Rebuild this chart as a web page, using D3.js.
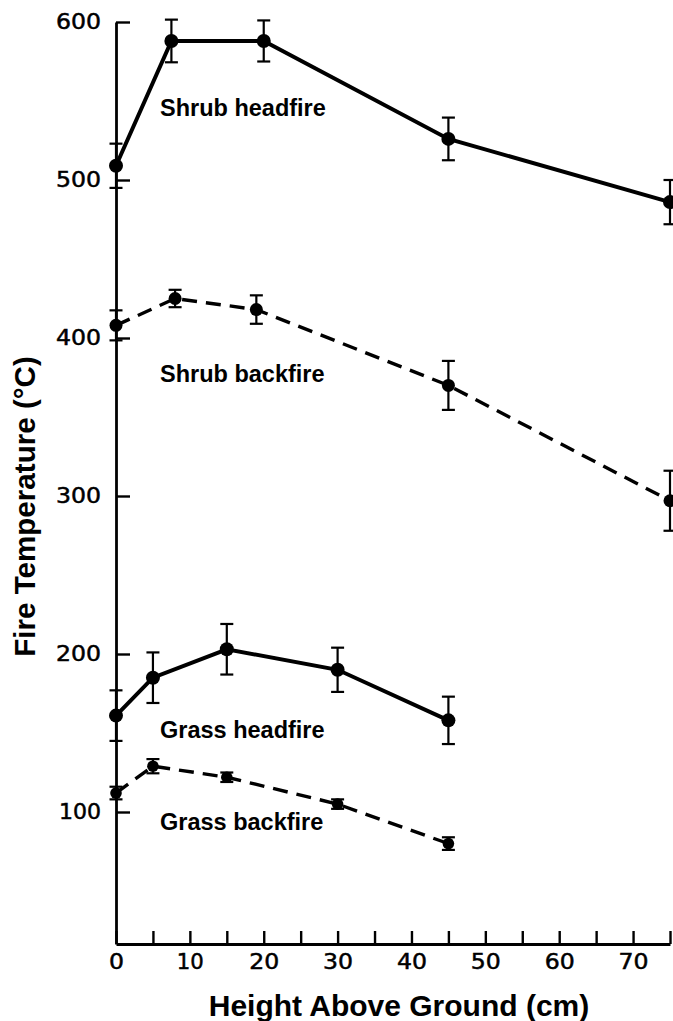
<!DOCTYPE html>
<html>
<head>
<meta charset="utf-8">
<script src="https://cdn.jsdelivr.net/npm/d3@7/dist/d3.min.js"></script>
<style>
  html, body { margin: 0; padding: 0; background: #fff; }
  svg { display: block; }
</style>
</head>
<body>
<script>
// ---- data ----
const seriesNames = ["Shrub headfire", "Shrub backfire", "Grass headfire", "Grass backfire"];
const shrubHeadX = [0, 7.5, 20, 45, 75];
const shrubHeadY = [509, 588, 588, 526, 486];
const shrubHeadErr = [14, 13.5, 13, 13.5, 14];
const shrubBackX = [0, 8, 19, 45, 75];
const shrubBackY = [408, 425, 418, 370, 297];
const shrubBackErr = [9.5, 5.5, 9, 15.5, 19];
const grassHeadX = [0, 5, 15, 30, 45];
const grassHeadY = [161, 185, 203, 190, 158];
const grassHeadErr = [16, 16, 16, 14, 15];
const grassBackX = [0, 5, 15, 30, 45];
const grassBackY = [112, 129, 122, 105, 80];
const grassBackErr = [4, 4.5, 3, 3, 4];
const xTickValues = [0, 5, 10, 15, 20, 25, 30, 35, 40, 45, 50, 55, 60, 65, 70, 75];
const xTickLabels = ["0", "", "10", "", "20", "", "30", "", "40", "", "50", "", "60", "", "70", ""];
const yTickValues = [100, 200, 300, 400, 500, 600];
const xTitle = "Height Above Ground (cm)";
const yTitle = "Fire Temperature (°C)";

const W = 673, H = 1021;
const svg = d3.select("body").append("svg").attr("width", W).attr("height", H);

const x = d3.scaleLinear().domain([0, 75]).range([116, 670]);
const y = d3.scaleLinear().domain([100, 600]).range([812, 22]);
const yMin = y.invert(944);
y.domain([yMin, 600]).range([944, y(600)]);

// axes
const xAxis = d3.axisBottom(x)
  .tickValues(xTickValues)
  .tickFormat((d, i) => xTickLabels[i])
  .tickSizeInner(-13).tickSizeOuter(0).tickPadding(10);
const gx = svg.append("g").attr("transform", "translate(0,944)").call(xAxis);

const yAxis = d3.axisLeft(y)
  .tickValues(yTickValues)
  .tickFormat(d3.format("d"))
  .tickSizeInner(-14).tickSizeOuter(0).tickPadding(15);
const gy = svg.append("g").attr("transform", "translate(116,0)").call(yAxis);

[gx, gy].forEach(g => {
  g.select(".domain").attr("stroke", "#000").attr("stroke-width", 2.8);
  g.selectAll(".tick line").attr("stroke", "#000").attr("stroke-width", 2.4);
  g.selectAll(".tick text")
    .attr("fill", "#000")
    .attr("stroke", "#000")
    .attr("stroke-width", 0.5)
    .attr("font-family", "'DejaVu Sans', sans-serif")
    .attr("font-size", 21)
    .style("font-family", "'DejaVu Sans', sans-serif")
    .style("font-size", "21px")
    .each(function () {
      const t = d3.select(this).text();
      if (t.length) {
        d3.select(this).attr("textLength", t.length * 15 - (t[0] === "1" ? 3 : 0))
          .attr("lengthAdjust", "spacingAndGlyphs");
      }
    });
});

// series
const series = [
  { name: seriesNames[0], xs: shrubHeadX, ys: shrubHeadY, es: shrubHeadErr, dash: null, r: 7, lx: 160, ly: 116 },
  { name: seriesNames[1], xs: shrubBackX, ys: shrubBackY, es: shrubBackErr, dash: "15,9", r: 6.5, lx: 160, ly: 382 },
  { name: seriesNames[2], xs: grassHeadX, ys: grassHeadY, es: grassHeadErr, dash: null, r: 7, lx: 160, ly: 738 },
  { name: seriesNames[3], xs: grassBackX, ys: grassBackY, es: grassBackErr, dash: "15,9", r: 5.8, lx: 160, ly: 830 }
];

const line = d3.line().x(d => x(d.x)).y(d => y(d.y));

series.forEach(s => {
  const pts = s.xs.map((xv, i) => ({ x: xv, y: s.ys[i], e: s.es[i] }));
  const g = svg.append("g");
  g.append("path").datum(pts)
    .attr("d", line)
    .attr("fill", "none")
    .attr("stroke", "#000")
    .attr("stroke-width", s.dash ? 3.4 : 4)
    .attr("stroke-dasharray", s.dash);
  // error bars
  const eb = g.selectAll(".eb").data(pts).enter().append("g");
  eb.append("line")
    .attr("x1", d => x(d.x)).attr("x2", d => x(d.x))
    .attr("y1", d => y(d.y + d.e)).attr("y2", d => y(d.y - d.e))
    .attr("stroke", "#000").attr("stroke-width", 2.2);
  eb.append("line")
    .attr("x1", d => x(d.x) - 6.5).attr("x2", d => x(d.x) + 6.5)
    .attr("y1", d => y(d.y + d.e)).attr("y2", d => y(d.y + d.e))
    .attr("stroke", "#000").attr("stroke-width", 2.2);
  eb.append("line")
    .attr("x1", d => x(d.x) - 6.5).attr("x2", d => x(d.x) + 6.5)
    .attr("y1", d => y(d.y - d.e)).attr("y2", d => y(d.y - d.e))
    .attr("stroke", "#000").attr("stroke-width", 2.2);
  g.selectAll("circle").data(pts).enter().append("circle")
    .attr("cx", d => x(d.x)).attr("cy", d => y(d.y)).attr("r", s.r)
    .attr("fill", "#000");
  svg.append("text")
    .attr("x", s.lx).attr("y", s.ly)
    .style("font-family", "'Liberation Sans', Arial, sans-serif")
    .style("font-weight", "bold")
    .style("font-size", "23.5px")
    .attr("fill", "#000")
    .text(s.name);
});

// axis titles
svg.append("text")
  .attr("x", 399).attr("y", 1016)
  .attr("text-anchor", "middle")
  .style("font-family", "'Liberation Sans', Arial, sans-serif")
  .style("font-weight", "bold")
  .style("font-size", "30px")
  .attr("fill", "#000")
  .text(xTitle);

svg.append("text")
  .attr("transform", "translate(35,506.5) rotate(-90)")
  .attr("text-anchor", "middle")
  .style("font-family", "'Liberation Sans', Arial, sans-serif")
  .style("font-weight", "bold")
  .style("font-size", "29.6px")
  .attr("fill", "#000")
  .text(yTitle);
</script>
</body>
</html>
